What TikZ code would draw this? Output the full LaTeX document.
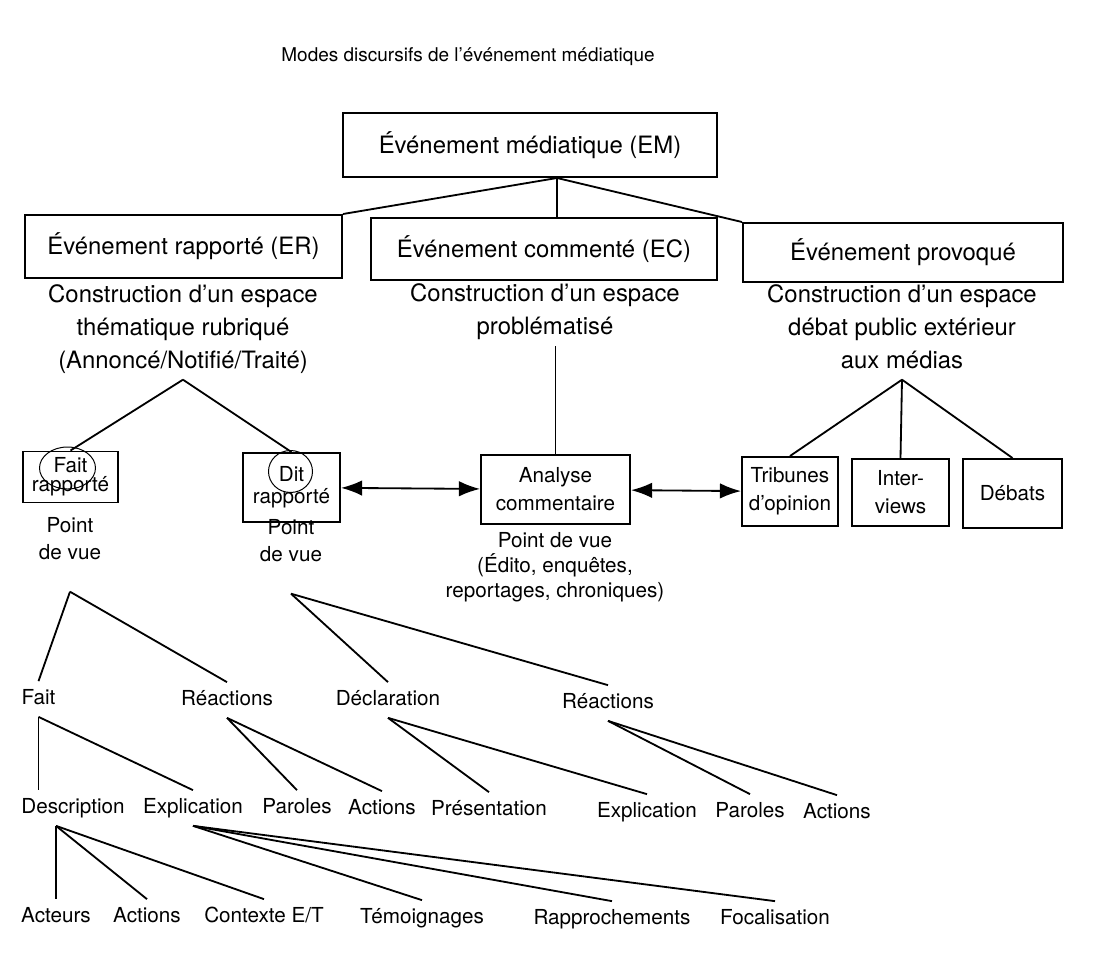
\documentclass[tikz,border=0pt]{standalone}
\usepackage{fontspec}
\setmainfont{TeX Gyre Heros}
\usetikzlibrary{positioning, arrows.meta, calc}

\tikzset{
    cadre/.style={draw, line width=1.4pt, inner sep=0pt, align=center,
        font=\fontsize{17}{21}\selectfont},
    petitcadre/.style={cadre, font=\fontsize{14.7}{20}\selectfont},
    glose/.style={align=center, inner sep=4pt, text depth=4pt,
        font=\fontsize{17}{23.5}\selectfont},
    petiteglose/.style={glose, inner sep=2pt, font=\fontsize{14.7}{19}\selectfont},
    mot/.style={inner sep=5.5pt, text height=11pt, text depth=3pt,
        font=\fontsize{14.7}{18}\selectfont},
    lien/.style={line width=1.3pt},
    fleche/.style={line width=1.3pt, {Latex[length=15pt,width=11pt]}-{Latex[length=15pt,width=11pt]}}
}

\begin{document}
\begin{tikzpicture}[x=0.25mm, y=-0.25mm]
    \fill[white] (0,0) rectangle (1099,966);
    \useasboundingbox (0,0) rectangle (1099,966);

    % Title
    \node[font=\fontsize{13.5}{16}\selectfont] (titre) at (468,57) {Modes discursifs de l'événement médiatique};

    % Top boxes
    \node[cadre, minimum width=93.5mm, minimum height=16mm] (em) at (530,145) {Événement médiatique (EM)};
    \node[cadre, minimum width=79.25mm, minimum height=15.75mm] (er) at (183.5,246.5) {Événement rapporté (ER)};
    \node[cadre, minimum width=86.5mm, minimum height=15.5mm] (ec) at (544,249) {Événement commenté (EC)};
    \node[cadre, minimum width=80mm, minimum height=14.75mm] (ep) at (903,252.5) {Événement provoqué};
    \coordinate (empied) at ([xshift=6.75mm]em.south);

    % Spaces built by each kind of event
    \node[glose] (ertxt) at (183,329) {Construction d'un espace\\thématique rubriqué\\(Annoncé/Notifié/Traité)};
    \node[glose] (ectxt) at (545,312) {Construction d'un espace\\problématisé};
    \node[glose] (eptxt) at (902,329) {Construction d'un espace\\débat public extérieur\\aux médias};

    % Genres
    \node[petitcadre, font=\fontsize{14.7}{13.5}\selectfont, minimum width=23.75mm, minimum height=12.75mm] (fr) at (70.5,477) {Fait\\rapporté};
    \node[petitcadre, font=\fontsize{14.7}{15.5}\selectfont, minimum width=24.25mm, minimum height=17.25mm] (dr) at (291.5,487.5) {Dit\\rapporté};
    \node[petitcadre, minimum width=37.25mm, minimum height=17.25mm] (ac) at (555.5,489.5) {Analyse\\commentaire};
    \node[petitcadre, minimum width=24mm, minimum height=17.25mm] (tr) at (790,491.5) {Tribunes\\d'opinion};
    \node[petitcadre, minimum width=24.25mm, minimum height=16.75mm] (iv) at (900.5,492.5) {Inter-\\views};
    \node[petitcadre, minimum width=24.75mm, minimum height=17.25mm] (db) at (1012.5,493.5) {Débats};

    % hand-drawn rings
    \draw[line width=0.7pt] ($(fr.center)+(-3,-9)$) ellipse [x radius=7mm, y radius=5.25mm];
    \draw[line width=0.7pt] ($(dr.center)+(-1,-16)$) ellipse [x radius=5.5mm, y radius=5.25mm];

    % Points of view
    \node[petiteglose] (fpv) at (70,541) {Point\\de vue};
    \node[petiteglose] (dpv) at (291,543) {Point\\de vue};
    \node[petiteglose, font=\fontsize{14.7}{17.8}\selectfont] (apv) at (555,568) {Point de vue\\(Édito, enquêtes,\\reportages, chroniques)};
    \coordinate[below=17pt of fpv] (fpvpied);
    \coordinate[below=17pt of dpv] (dpvpied);

    % Level 3
    \node[mot] (fait) at (38.5,699) {Fait};
    \node[mot] (re1) at (227,700) {Réactions};
    \node[mot] (decl) at (388,700) {Déclaration};
    \node[mot] (re2) at (608,703) {Réactions};

    % Level 4
    \node[mot] (desc) at (73,808) {Description};
    \node[mot] (expl) at (193,808) {Explication};
    \node[mot] (par) at (297,808) {Paroles};
    \node[mot] (act) at (382,809) {Actions};
    \node[mot] (pres) at (489,810) {Présentation};
    \node[mot] (expl2) at (647,812) {Explication};
    \node[mot] (par2) at (750,812) {Paroles};
    \node[mot] (act2) at (837,813) {Actions};

    % Level 5
    \node[mot] (acteurs) at (56,917) {Acteurs};
    \node[mot] (act3) at (147,917) {Actions};
    \node[mot] (ctx) at (264,917) {Contexte E/T};
    \node[mot] (tem) at (422,918) {Témoignages};
    \node[mot] (rap) at (612,919) {Rapprochements};
    \node[mot] (foc) at (775,919) {Focalisation};
    \coordinate (descpied) at (acteurs.north |- desc.south);

    % Links
    \path[lien]
    (empied) edge (er.north east)
        (empied) edge (empied |- ec.north)
        (empied) edge (ep.north west)
    (ertxt.south) edge (fr.north)
        (ertxt.south) edge (dr.north)
    (ac.north |- ectxt.south) edge (ac.north)
    (eptxt.south) edge (tr.north)
        (eptxt.south) edge (iv.north)
        (eptxt.south) edge (db.north)
    (fpvpied) edge (fait.north)
        (fpvpied) edge (re1.north)
    (dpvpied) edge (decl.north)
        (dpvpied) edge (re2.north)
    (fait.south) edge (fait.south |- desc.north)
        (fait.south) edge (expl.north)
    (re1.south) edge (par.north)
        (re1.south) edge (act.north)
    (decl.south) edge (pres.north)
        (decl.south) edge (expl2.north)
    (re2.south) edge (par2.north)
        (re2.south) edge (act2.north)
    (descpied) edge (acteurs.north)
        (descpied) edge (act3.north)
        (descpied) edge (ctx.north)
    (expl.south) edge (tem.north)
        (expl.south) edge (rap.north)
        (expl.south) edge (foc.north);

    \draw[fleche] (dr) -- (ac);
    \draw[fleche] (ac) -- (tr);
\end{tikzpicture}
\end{document}
